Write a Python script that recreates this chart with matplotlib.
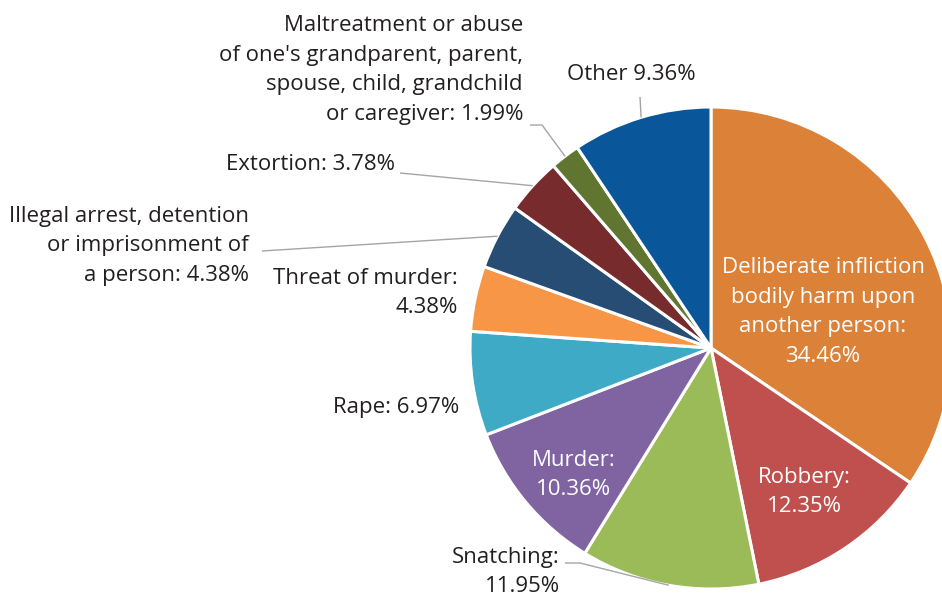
import numpy as np
import matplotlib
matplotlib.use("Agg")
import matplotlib.pyplot as plt

categories = [
    "Deliberate infliction\nbodily harm upon\nanother person",
    "Robbery",
    "Snatching",
    "Murder",
    "Rape",
    "Threat of murder",
    "Illegal arrest, detention\nor imprisonment of\na person",
    "Extortion",
    "Maltreatment or abuse\nof one's grandparent, parent,\nspouse, child, grandchild\nor caregiver",
    "Other",
]
values = [34.46, 12.35, 11.95, 10.36, 6.97, 4.38, 4.38, 3.78, 1.99, 9.36]
colors = ["#DB8238", "#C0504D", "#9BBB59", "#8064A2", "#3FAAC6",
          "#F79646", "#274D75", "#772B2C", "#5F7530", "#0A569B"]

W, H = 942, 598
fig = plt.figure(figsize=(W / 100, H / 100), dpi=100)
ax = fig.add_axes([0, 0, 1, 1])
plt.rcParams['font.family'] = ['Open Sans', 'DejaVu Sans']

CX, CY, R = 711, 348, 241  # pixel layout


def Y(y):
    return H - y


ax.pie(values, colors=colors, startangle=90, counterclock=False,
       center=(CX, Y(CY)), radius=R,
       wedgeprops=dict(edgecolor="white", linewidth=2.2))
ax.set_xlim(0, W)
ax.set_ylim(0, H)
ax.set_aspect("equal")
ax.axis("off")

# mid-angles of slices
tot = sum(values)
cum = np.cumsum([0] + values[:-1])
mid = [90 - (c + v / 2) / tot * 360 for c, v in zip(cum, values)]


def edge(i):
    a = np.deg2rad(mid[i])
    return CX + R * np.cos(a), Y(CY) + R * np.sin(a)


TXT = "#231F20"
LINE = "#A5A5A5"
FS = 16
LS = 1.55


def lbl(i):
    return f"{categories[i]}: {values[i]:.2f}%"


# inside labels (white)
ax.text(823, Y(312), lbl(0).replace(": ", ":\n"), color="white", fontsize=FS,
        ha="center", va="center", linespacing=LS)
ax.text(804, Y(492), lbl(1).replace(": ", ":\n"), color="white", fontsize=FS,
        ha="center", va="center", linespacing=LS)
ax.text(574, Y(475), lbl(3).replace(": ", ":\n"), color="white", fontsize=FS,
        ha="center", va="center", linespacing=LS)

# outside labels
ax.text(560, Y(572), f"{categories[2]}:\n{values[2]:.2f}%", color=TXT, fontsize=FS,
        ha="right", va="center", linespacing=LS, multialignment="right")
ax.text(459, Y(408), lbl(4), color=TXT, fontsize=FS, ha="right", va="center")
ax.text(458, Y(293), f"{categories[5]}:\n{values[5]:.2f}%", color=TXT, fontsize=FS,
        ha="right", va="center", linespacing=LS, multialignment="right")
ax.text(249, Y(246), lbl(6), color=TXT, fontsize=FS, ha="right", va="center",
        linespacing=LS, multialignment="right")
ax.text(395, Y(164), lbl(7), color=TXT, fontsize=FS, ha="right", va="center")
ax.text(523, Y(70), lbl(8), color=TXT, fontsize=FS, ha="right", va="center",
        linespacing=LS, multialignment="right")
ax.text(631, Y(75), f"{categories[9]} {values[9]:.2f}%", color=TXT, fontsize=FS,
        ha="center", va="center")

# leader lines
def leader(i, pts):
    ex, ey = edge(i)
    xs = [p[0] for p in pts] + [ex]
    ys = [Y(p[1]) for p in pts] + [ey]
    ax.plot(xs, ys, color=LINE, lw=1.0, solid_capstyle="butt")


leader(2, [(565, 563), (580, 563)])
leader(6, [(262, 251)])
leader(7, [(400, 173)])
leader(8, [(530, 125), (542, 125)])
leader(9, [(640, 97)])

fig.savefig("out.png", dpi=100)
